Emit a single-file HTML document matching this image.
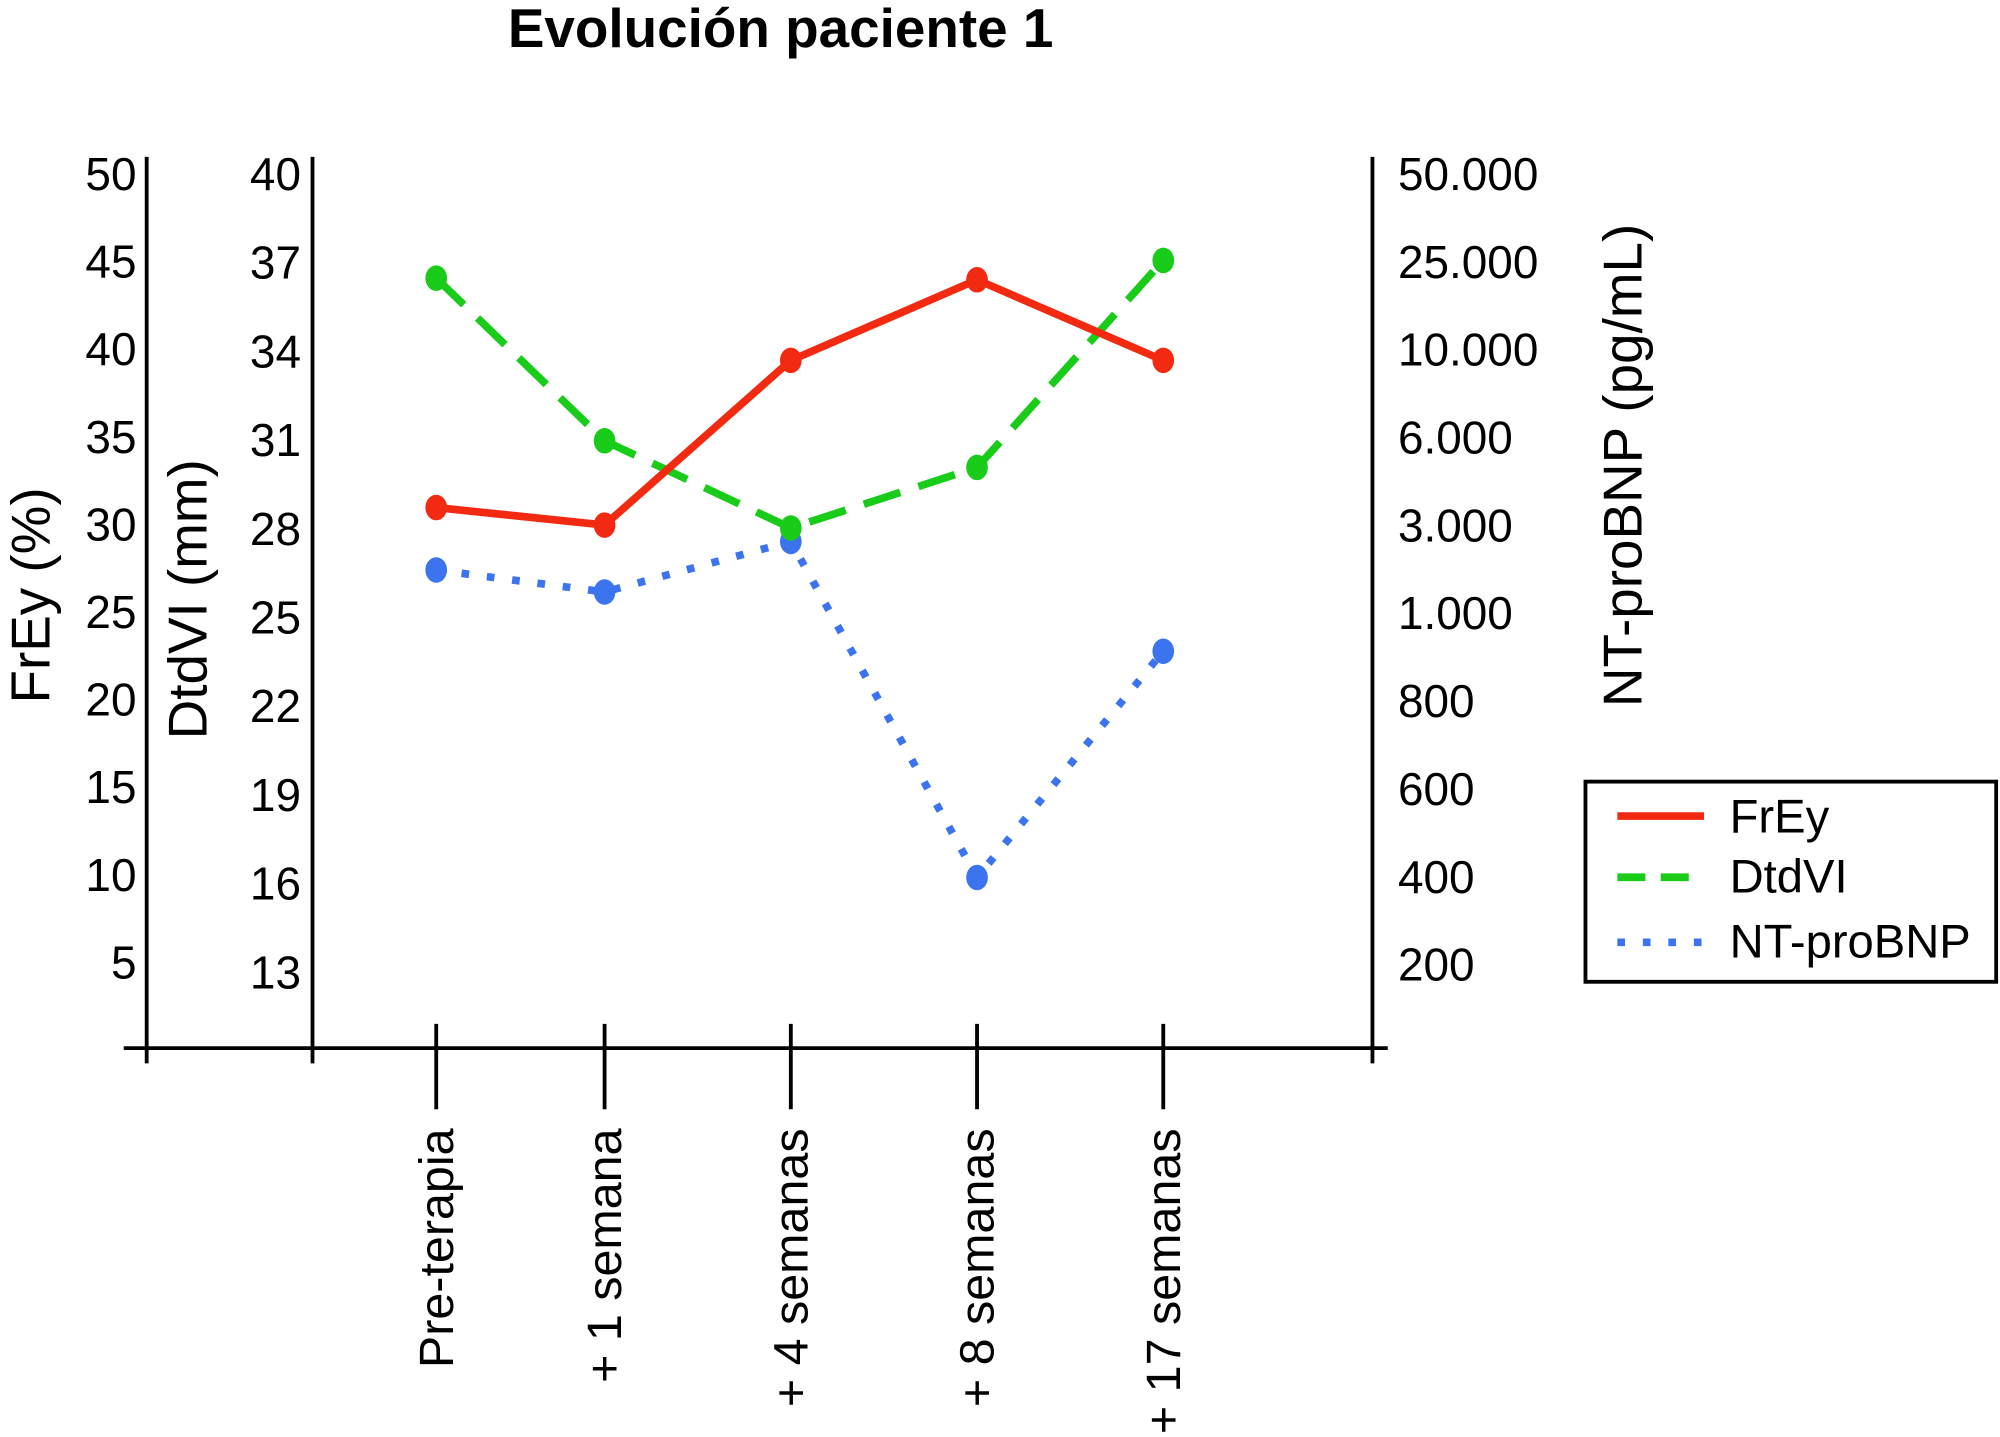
<!DOCTYPE html>
<html><head><meta charset="utf-8"><style>
html,body{margin:0;padding:0;background:#fff}
svg{display:block}
text{font-family:"Liberation Sans",sans-serif;fill:#000}
</style></head><body>
<svg width="2000" height="1437" viewBox="0 0 1568 1127" preserveAspectRatio="none">
<text x="612" y="37" font-size="43" font-weight="bold" text-anchor="middle">Evolución paciente 1</text>
<g id="axes"></g>
<g id="series"></g>
<g>
<rect x="1243" y="613" width="322" height="157" fill="#fff" stroke="#000" stroke-width="3"/>
<g><line x1="1268" y1="640" x2="1336" y2="640" stroke="#f22a12" stroke-width="6"/><text x="1356" y="653" font-size="37">FrEy</text></g>
<g><line x1="1268" y1="688" x2="1336" y2="688" stroke="#19cc19" stroke-width="6" stroke-dasharray="22,12"/><text x="1356" y="700" font-size="37">DtdVI</text></g>
<g><line x1="1268" y1="739" x2="1336" y2="739" stroke="#3b74ee" stroke-width="6" stroke-dasharray="6,14"/><text x="1356" y="751" font-size="37">NT-proBNP</text></g>
</g>
</svg>
<script>
const categories=["Pre-terapia","+ 1 semana","+ 4 semanas","+ 8 semanas","+ 17 semanas"];
const freyValues=[31,30,39.4,44,39.4];
const dtdviValues=[36.5,31,28.05,30.1,37.1];
const bnpValues=[2000,1500,2650,400,915];
const freyTicks=[50,45,40,35,30,25,20,15,10,5];
const dtdviTicks=[40,37,34,31,28,25,22,19,16,13];
const bnpTicks=[50000,25000,10000,6000,3000,1000,800,600,400,200];
const bnpTickLabels=["50.000","25.000","10.000","6.000","3.000","1.000","800","600","400","200"];

const NS="http://www.w3.org/2000/svg";
const axes=document.getElementById('axes'), ser=document.getElementById('series');
function mk(tag,attrs,parent){const e=document.createElementNS(NS,tag);for(const k in attrs)e.setAttribute(k,attrs[k]);parent.appendChild(e);return e;}
const catXs=[342,474,620,766,912];
const xOf=i=>catXs[i];
const yFrey=v=>824-v*13.74;
const yDtd=v=>137+(40-v)*23.19;
function yBnp(v){
  const step=68.9;
  for(let i=0;i<bnpTicks.length-1;i++){
    const a=bnpTicks[i],b=bnpTicks[i+1];
    if(v<=a&&v>=b){return 137+(i+(a-v)/(a-b))*step;}
  }
  if(v>bnpTicks[0])return 137;
  return 137+(bnpTicks.length-1)*step;
}
let e;
e=mk('line',{x1:97,y1:822,x2:1088,y2:822,stroke:'#000','stroke-width':3},axes);


[[115,'frey-axis'],[245,'dtdvi-axis'],[1076,'ntprobnp-axis']].forEach(([x,n])=>{
  e=mk('line',{x1:x,y1:123,x2:x,y2:834,stroke:'#000','stroke-width':3},axes);
  
  
});
freyTicks.forEach(v=>{e=mk('text',{x:107,y:yFrey(v)+12,'font-size':36,'text-anchor':'end'},axes);e.textContent=v;

});
dtdviTicks.forEach(v=>{e=mk('text',{x:236,y:yDtd(v)+12,'font-size':36,'text-anchor':'end'},axes);e.textContent=v;

});
bnpTicks.forEach((v,i)=>{e=mk('text',{x:1096,y:yBnp(v)+12,'font-size':36},axes);e.textContent=bnpTickLabels[i];

});
categories.forEach((c,i)=>{
  mk('line',{x1:xOf(i),y1:803,x2:xOf(i),y2:870,stroke:'#000','stroke-width':3},axes);
  e=mk('text',{x:0,y:0,'font-size':38,'text-anchor':'end',transform:`translate(${xOf(i)+13},885) rotate(-90)`},axes);
  e.textContent=c;
  
  
});
[['FrEy (%)',39,467,'frey-axis-title'],['DtdVI (mm)',162,470,'dtdvi-axis-title'],['NT-proBNP (pg/mL)',1287,365,'ntprobnp-axis-title']].forEach(([t,x,y,n])=>{
  e=mk('text',{x:0,y:0,'font-size':43,'text-anchor':'middle',transform:`translate(${x},${y}) rotate(-90)`},axes);
  e.textContent=t;
  
  
});
function series(vals,yf,color,dash,name){
  const pts=vals.map((v,i)=>xOf(i)+','+yf(v)).join(' ');
  const p=mk('polyline',{points:pts,fill:'none',stroke:color,'stroke-width':6,'stroke-dasharray':dash},ser);
  
  
  vals.forEach((v,i)=>{
    const c=mk('ellipse',{cx:xOf(i),cy:yf(v),rx:8.5,ry:10,fill:color},ser);
    
    
  });
}
series(bnpValues,yBnp,'#3b74ee','6,14','ntprobnp');
series(dtdviValues,yDtd,'#19cc19','30,15','dtdvi');
series(freyValues,yFrey,'#f22a12','none','frey');
</script>
</body></html>
